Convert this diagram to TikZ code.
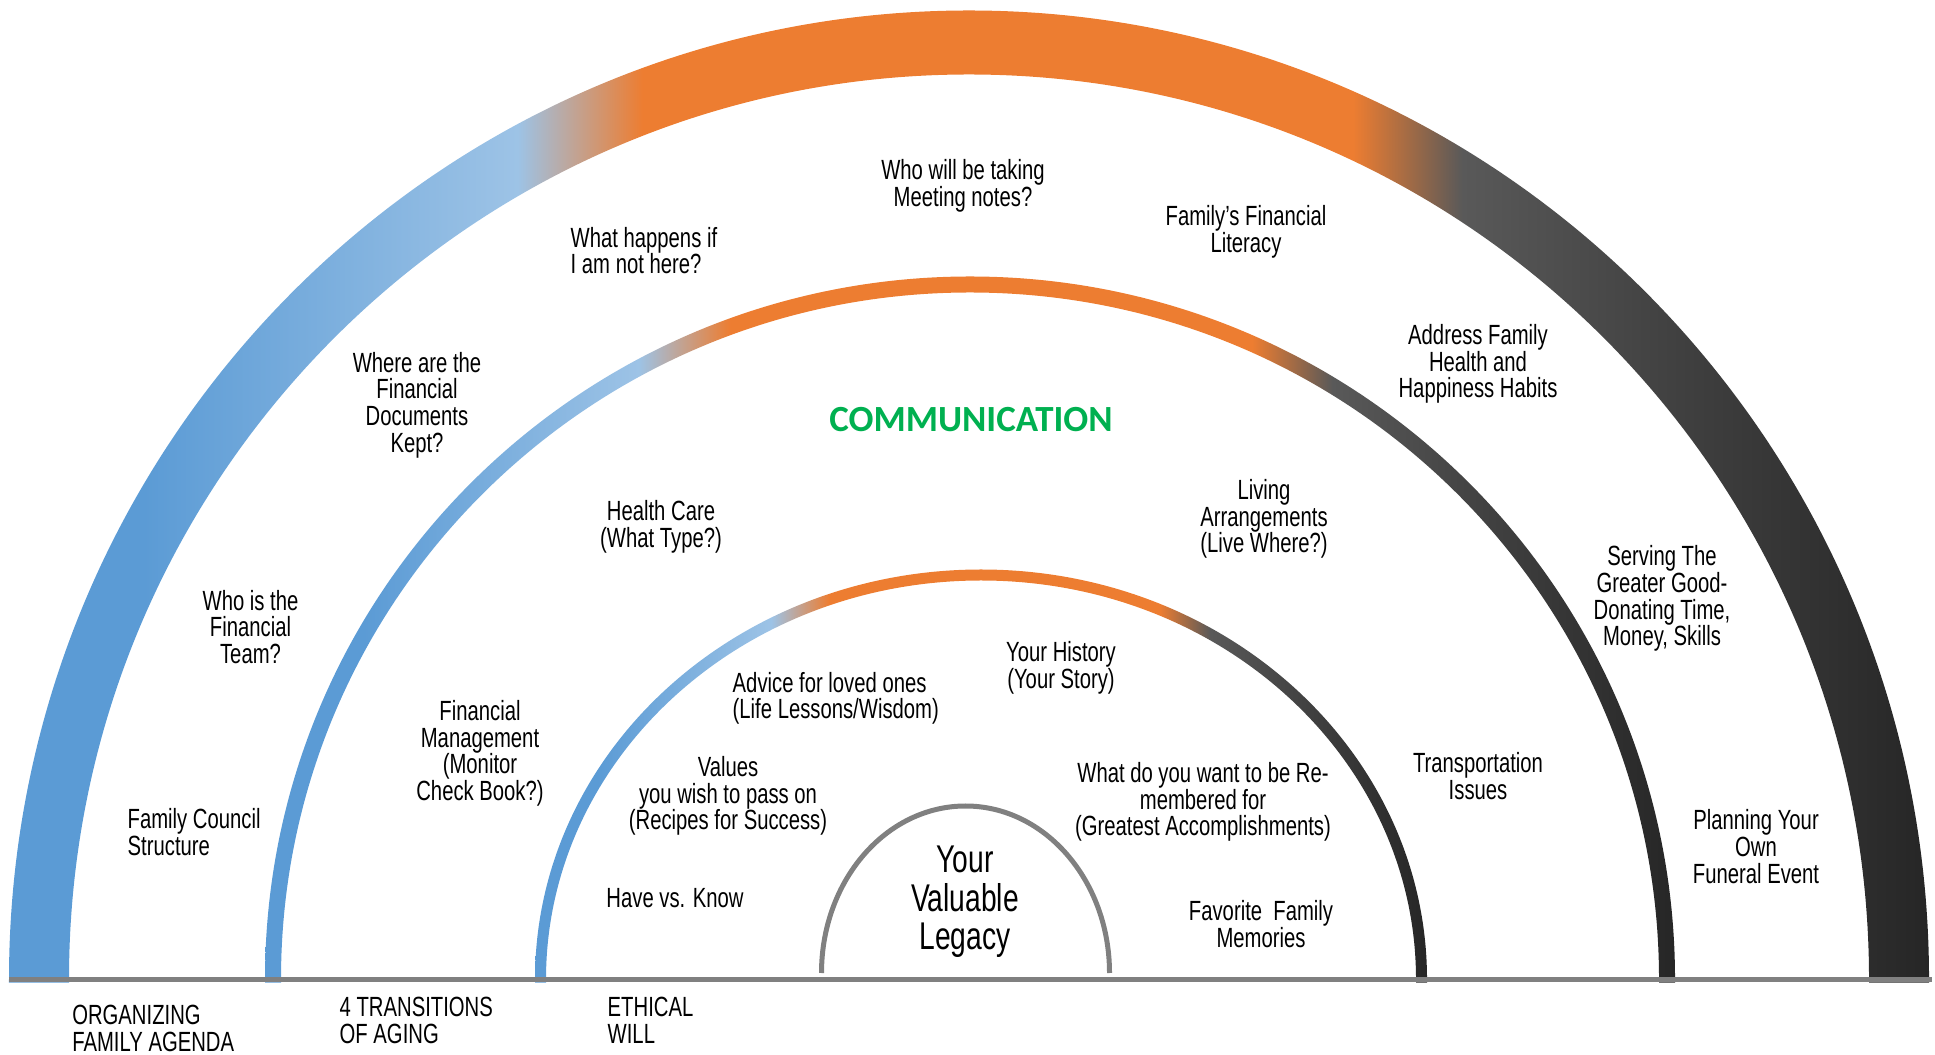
\documentclass[tikz,border=0pt]{standalone}
\usepackage{fontspec}
\setmainfont{Liberation Sans}[FakeStretch=0.73]
\newfontfamily\commfont{Carlito}
\usepackage{tikz}
\definecolor{archblue}{HTML}{5B9BD5}
\definecolor{archlight}{HTML}{9DC3E6}
\definecolor{archorange}{HTML}{ED7D31}
\definecolor{archgray}{HTML}{595959}
\definecolor{archgrey}{HTML}{404040}
\definecolor{archdark}{HTML}{262626}
\definecolor{commgreen}{HTML}{00B050}
\definecolor{basegray}{HTML}{808080}
\pgfdeclarehorizontalshading{archfill}{100bp}{color(0bp)=(archblue); color(25bp)=(archblue); color(28.5bp)=(archblue); color(38.25bp)=(archlight); color(41.5bp)=(archorange); color(60bp)=(archorange); color(62.85bp)=(archgray); color(68.5bp)=(archgrey); color(75bp)=(archdark); color(100bp)=(archdark)}
\newcommand{\archfont}{\fontsize{7.9pt}{7.6pt}\selectfont}
\newcommand{\legacyfont}{\fontsize{11pt}{10.9pt}\selectfont}
\tikzset{
  arch label/.style={font=\archfont, align=center, inner sep=0pt},
  base label/.style={arch label, align=left, anchor=west},
}

\begin{document}
\begin{tikzpicture}
            \useasboundingbox (0,0) rectangle (19.35,10.54);
            % three bands, one fill each
            \shade[shading=archfill] (0.09,0.715) -- (0.09,0.745) arc[start angle=180, end angle=0, x radius=9.60, y radius=9.69] -- (19.29,0.715) -- (18.69,0.715) -- (18.69,0.745) arc[start angle=0, end angle=180, x radius=9.0, y radius=9.05] -- (0.69,0.715) -- cycle;
            \shade[shading=archfill] (2.65,0.715) -- (2.65,0.745) arc[start angle=180, end angle=0, x radius=7.05, y radius=7.03] -- (16.75,0.715) -- (16.59,0.715) -- (16.59,0.745) arc[start angle=0, end angle=180, x radius=6.89, y radius=6.87] -- (2.81,0.715) -- cycle;
            \shade[shading=archfill] (5.35,0.715) -- (5.35,0.745) arc[start angle=180, end angle=0, x radius=4.46, y radius=4.10] -- (14.27,0.715) -- (14.16,0.715) -- (14.16,0.745) arc[start angle=0, end angle=180, x radius=4.35, y radius=3.99] -- (5.46,0.715) -- cycle;
            \draw[basegray, line width=0.05cm] (8.215,0.81) arc[start angle=180, end angle=0, x radius=1.44, y radius=1.67];
            \draw[basegray, line width=0.05cm] (0.09,0.745) -- (19.32,0.745);
            % outer ring
            \node[arch label] (notes) at (9.63,8.68) {Who will be taking\\Meeting notes?};
            \node[base label] (absent) at (5.70,8.035) {What happens if\\I am not here?};
            \node[arch label] (literacy) at (12.46,8.22) {Family’s Financial\\Literacy};
            \node[arch label] (health) at (14.78,6.90) {Address Family\\Health and\\Happiness Habits};
            \node[arch label] (documents) at (4.17,6.49) {Where are the\\Financial\\Documents\\Kept?};
            \node[arch label] (serving) at (16.62,4.555) {Serving The\\Greater Good-\\Donating Time,\\Money, Skills};
            \node[arch label] (team) at (2.505,4.27) {Who is the\\Financial\\Team?};
            \node[base label] (council) at (1.27,2.22) {Family Council\\Structure};
            \node[arch label] (funeral) at (17.56,2.075) {Planning Your\\Own\\Funeral Event};
            % middle ring
            \node[font=\commfont\fontsize{10.5pt}{12pt}\selectfont\bfseries, text=commgreen, inner sep=0pt] (communication) at (9.71,6.34) {COMMUNICATION};
            \node[arch label] (care) at (6.61,5.27) {Health Care\\(What Type?)};
            \node[arch label] (living) at (12.64,5.35) {Living\\Arrangements\\(Live Where?)};
            \node[arch label] (money) at (4.80,3.006) {Financial\\Management\\(Monitor\\Check Book?)};
            \node[arch label] (transport) at (14.78,2.78) {Transportation\\Issues};
            % inner ring
            \node[arch label] (history) at (10.61,3.864) {Your History\\(Your Story)};
            \node[base label] (advice) at (7.32,3.556) {Advice for loved ones\\(Life Lessons/Wisdom)};
            \node[arch label] (values) at (7.28,2.58) {Values\\you wish to pass on\\(Recipes for Success)};
            \node[arch label] (remembered) at (12.03,2.52) {What do you want to be Re-\\membered for\\(Greatest Accomplishments)};
            \node[arch label] (know) at (6.75,1.56) {Have vs. Know};
            \node[arch label] (memories) at (12.61,1.297) {Favorite~~Family\\Memories};
            \node[arch label, font=\legacyfont] (legacy) at (9.65,1.52) {Your\\Valuable\\Legacy};
            % under the line
            \node[base label] (agenda) at (0.716,0.255) {ORGANIZING\\FAMILY AGENDA};
            \node[base label] (aging) at (3.39,0.335) {4 TRANSITIONS\\OF AGING};
            \node[base label] (will) at (6.07,0.335) {ETHICAL\\WILL};
        \end{tikzpicture}
\end{document}
